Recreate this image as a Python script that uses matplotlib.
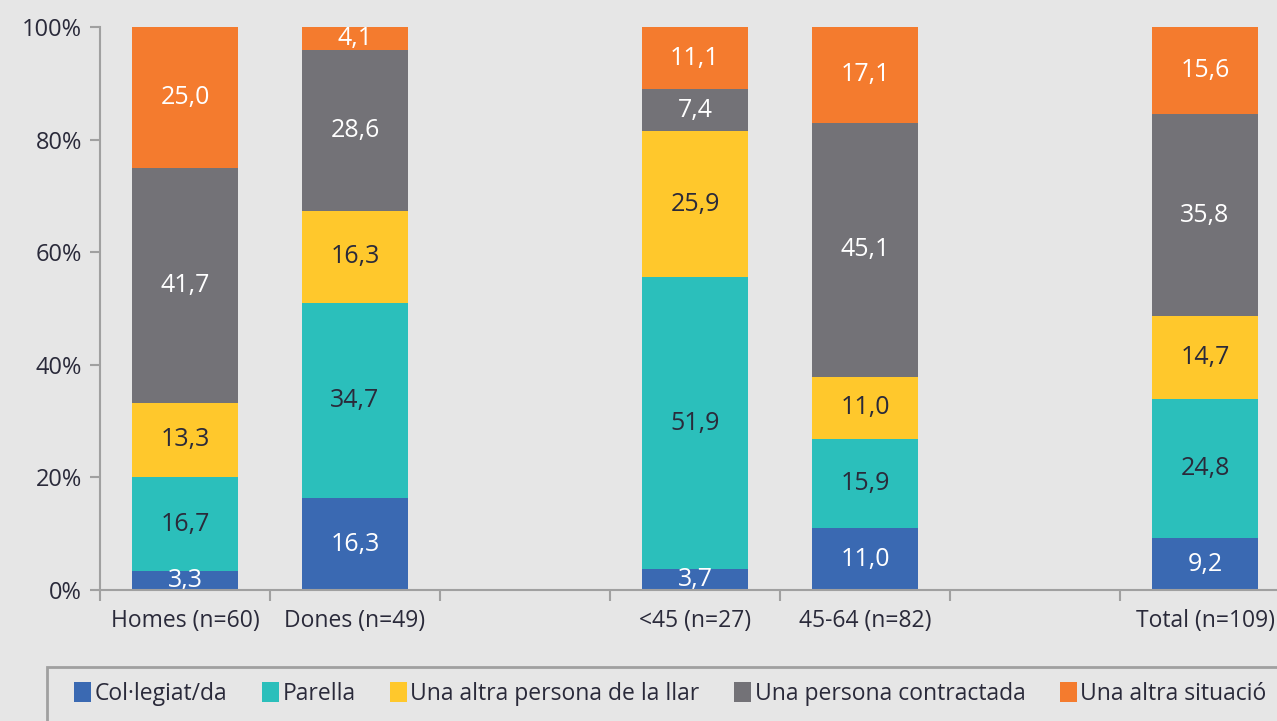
import matplotlib
matplotlib.use("Agg")
import matplotlib.pyplot as plt
from matplotlib.patches import Patch, Rectangle
import numpy as np

plt.rcParams['font.family'] = ['Open Sans', 'DejaVu Sans']

categories = ["Homes (n=60)", "Dones (n=49)", "", "<45 (n=27)", "45-64 (n=82)", "", "Total (n=109)"]
series_names = ["Col·legiat/da", "Parella", "Una altra persona de la llar",
                "Una persona contractada", "Una altra situació"]
colegiat = [3.3, 16.3, None, 3.7, 11.0, None, 9.2]
parella = [16.7, 34.7, None, 51.9, 15.9, None, 24.8]
altra_llar = [13.3, 16.3, None, 25.9, 11.0, None, 14.7]
contractada = [41.7, 28.6, None, 7.4, 45.1, None, 35.8]
altra_situacio = [25.0, 4.1, None, 11.1, 17.1, None, 15.6]

colors = ["#3A69B2", "#2BBFBB", "#FFC82C", "#737277", "#F47B2E"]
text_colors = ["white", "#2a2a3a", "#2a2a3a", "white", "white"]

bg = "#E6E6E6"
fig = plt.figure(figsize=(12.77, 7.21), dpi=100, facecolor=bg)
ax = fig.add_axes([100/1277, 131/721, 1190/1277, 563/721])
ax.set_facecolor(bg)

series = [colegiat, parella, altra_llar, contractada, altra_situacio]
x = np.arange(len(categories))
bottom = np.zeros(len(categories))
for vals, col, tcol in zip(series, colors, text_colors):
    v = np.array([np.nan if a is None else a for a in vals], dtype=float)
    vv = np.nan_to_num(v)
    ax.bar(x, vv, bottom=bottom, width=0.62, color=col, edgecolor='none', zorder=2)
    for i in range(len(x)):
        if not np.isnan(v[i]):
            ax.text(x[i], bottom[i] + vv[i] / 2, f"{v[i]:.1f}".replace('.', ','),
                    ha='center', va='center', color=tcol, fontsize=18, zorder=3)
    bottom = bottom + vv

ax.set_xlim(-0.5, len(categories) - 0.5)
ax.set_ylim(0, 100)
ax.set_yticks([0, 20, 40, 60, 80, 100])
ax.set_yticklabels(["0%", "20%", "40%", "60%", "80%", "100%"])
ax.set_xticks(x)
ax.set_xticklabels(categories)
ax.set_xticks(np.arange(-0.5, len(categories), 1), minor=True)
ax.tick_params(axis='x', which='major', length=0, pad=14, labelsize=16.5, labelcolor='#2a2a3a')
ax.tick_params(axis='x', which='minor', length=8, width=1.5, color='#A0A0A0')
ax.tick_params(axis='y', length=7, width=1.5, color='#A0A0A0', labelsize=17,
               labelcolor='#2a2a3a', pad=6)
for s in ['top', 'right']:
    ax.spines[s].set_visible(False)
for s in ['left', 'bottom']:
    ax.spines[s].set_color('#A0A0A0')
    ax.spines[s].set_linewidth(1.5)
ax.spines['bottom'].set_zorder(4)

# legend frame
fig.patches.append(Rectangle((47/1277, -0.05), 1.0, (721-667)/721 + 0.05,
                             transform=fig.transFigure, facecolor='none',
                             edgecolor='#A0A0A0', linewidth=2))
handles = [Patch(facecolor=c, edgecolor='none') for c in colors]
leg = fig.legend(handles, series_names, ncol=5, loc='center left',
                 bbox_to_anchor=(58/1277, 27/721), frameon=False, fontsize=16.5,
                 handlelength=0.75, handleheight=0.95, handletextpad=0.15,
                 columnspacing=1.5, labelcolor='#2a2a3a', borderpad=0.2)

fig.savefig("out.png", dpi=100, facecolor=bg)
